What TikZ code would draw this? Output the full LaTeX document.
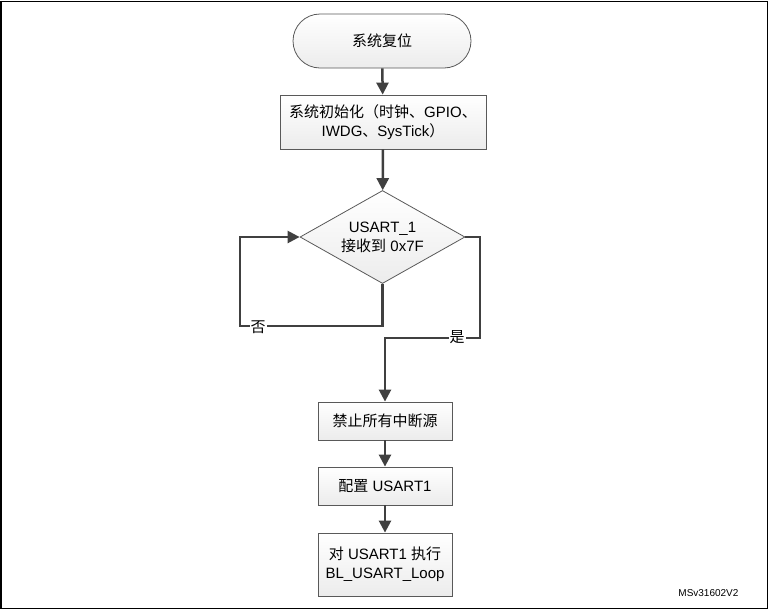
\documentclass[tikz,border=0pt]{standalone}
\usepackage{fontspec}
\setmainfont{Liberation Sans}
\newfontfamily\cjk{Noto Sans CJK SC}
\newcommand{\zhtext}[1]{{\cjk #1}}
\usetikzlibrary{shapes.geometric,arrows.meta}

\begin{document}
\begin{tikzpicture}[x=1pt,y=-1pt,
    stepbox/.style={draw=black!65, line width=0.8pt, top color=white, bottom color=gray!15,
        minimum width=134pt, minimum height=38pt, inner sep=0pt, align=center,
        font=\fontsize{15}{19}\selectfont},
    decision/.style={stepbox, diamond, shape aspect=1.77, minimum width=165pt, minimum height=93pt},
    flow/.style={draw=black!75, line width=2.5pt, -{Triangle[length=12pt,width=12pt]}},
    branch/.style={fill=white, inner sep=1pt, font=\fontsize{15}{18}\selectfont}]

    % Fix the picture size and draw the frame
    \useasboundingbox (0,0) rectangle (769,611);
    \draw[line width=1.5pt] (1,1.5) rectangle (767.5,608.5);

    % Place the steps of the flow chart
    \node[stepbox, rounded corners=27pt, minimum width=178pt, minimum height=54pt] (reset) at (382,41) {\zhtext{系统复位}};
    \node[stepbox, minimum width=206pt, minimum height=54pt] (init) at (383,122)
        {\zhtext{系统初始化（时钟、}GPIO\zhtext{、}\\IWDG\zhtext{、}SysTick\zhtext{）}};
    \node[decision] (check) at (382.5,237) {USART\_1\\\zhtext{接收到} 0x7F};
    \node[stepbox] (disable) at (385,421) {\zhtext{禁止所有中断源}};
    \node[stepbox] (config) at (385,486) {\zhtext{配置} USART1};
    \node[stepbox, minimum height=63pt] (run) at (385,564.5) {\zhtext{对} USART1 \zhtext{执行}\\BL\_USART\_Loop};

    % Corners of the two branches
    \coordinate (noC) at (240,326);
    \coordinate (yesA) at (480,338);
    \coordinate (yesB) at (385,338);

    % Draw the straight arrows
    \draw[flow] (reset) -- (init);
    \draw[flow] (init) -- (check);
    \draw[flow] (disable) -- (config);
    \draw[flow] (config) -- (run);

    % Draw the no loop and the yes branch
    \draw[flow] (check.south) |- (noC) |- (check.west);
    \draw[flow] (check.east) -| (yesA) -- (yesB) -- (disable.north);

    % Add the branch labels
    \node[branch] (no) at (258,327) {\zhtext{否}};
    \node[branch] (yes) at (457,337) {\zhtext{是}};

    % Add the figure tag
    \node[anchor=east, font=\fontsize{10}{12}\selectfont] (tag) at (742,593) {MSv31602V2};

\end{tikzpicture}
\end{document}
